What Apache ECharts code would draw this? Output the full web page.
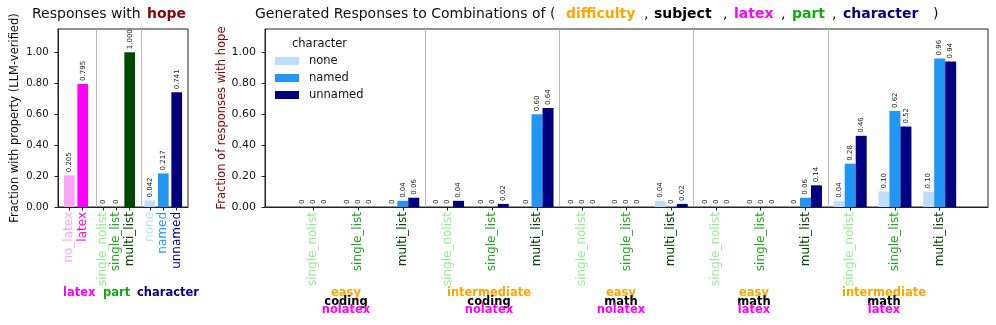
<!DOCTYPE html>
<html>
<head>
<meta charset="utf-8">
<script src="https://cdn.jsdelivr.net/npm/echarts@6/dist/echarts.min.js"></script>
<style>
  html, body { margin: 0; padding: 0; background: #fff; }
  #chart { width: 996px; height: 325px; }
</style>
</head>
<body>
<div id="chart"></div>
<script>
// left panel: share of responses with "hope" per attribute value
var leftGroups = [['no_latex', 'latex'], ['single_nolist', 'single_list', 'multi_list'], ['none', 'named', 'unnamed']];
var leftGroupNames = ['latex', 'part', 'character'];
var leftValues = [0.205, 0.795, 0, 0, 1.000, 0.042, 0.217, 0.741];

// right panel: one tick per (difficulty, subject, latex, part) combination
var parts = ['single_nolist', 'single_list', 'multi_list'];
var difficulty = ['easy', 'intermediate', 'easy', 'easy', 'intermediate'];
var subject = ['coding', 'coding', 'math', 'math', 'math'];
var latexGroup = ['nolatex', 'nolatex', 'nolatex', 'latex', 'latex'];
var characters = ['none', 'named', 'unnamed'];
var noneVals    = [0, 0, 0,     0, 0, 0,        0, 0, 0.04,  0, 0, 0,     0.04, 0.10, 0.10];
var namedVals   = [0, 0, 0.04,  0, 0, 0.60,     0, 0, 0,     0, 0, 0.06,  0.28, 0.62, 0.96];
var unnamedVals = [0, 0, 0.06,  0.04, 0.02, 0.64,  0, 0, 0.02,  0, 0, 0.14,  0.46, 0.52, 0.94];
var yTicks = [0, 0.2, 0.4, 0.6, 0.8, 1.0];

var colors = {
  no_latex: '#ffa3f6', latex: '#ff00ff',
  single_nolist: '#90ee90', single_list: '#1fa81f', multi_list: '#004800',
  none: '#bbdefb', named: '#2196f3', unnamed: '#000080'
};
var FONT = '"DejaVu Sans", sans-serif';

// left positions: groups separated by half a slot
var leftCats = [], leftPos = [];
var p = 0;
leftGroups.forEach(function (g, gi) {
  if (gi > 0) p += 0.5;
  g.forEach(function (c) { leftCats.push(c); leftPos.push(p); p++; });
});

var rightPos = [];
for (var i = 0; i < difficulty.length * parts.length; i++) rightPos.push(i);
var rightSeps = [];
for (var gs = 1; gs < difficulty.length; gs++) rightSeps.push({ xAxis: gs * parts.length - 0.5 });

function richFor(names, size) {
  var r = {};
  names.forEach(function (n) { r[n] = { color: colors[n], fontSize: size, fontFamily: FONT }; });
  return r;
}
function nameAt(list, posList, v) {
  for (var k = 0; k < posList.length; k++) if (Math.abs(posList[k] - v) < 1e-6) return list[k];
  return '';
}
function fmt(dec) {
  return function (prm) { var v = prm.value[1]; return v === 0 ? '0' : v.toFixed(dec); };
}
function sepSeries(xi, lines) {
  return {
    type: 'line', xAxisIndex: xi, yAxisIndex: xi, data: [], silent: true,
    markLine: {
      silent: true, symbol: ['none', 'none'], label: { show: false },
      lineStyle: { color: '#b8b8b8', type: 'solid', width: 1 }, data: lines
    }
  };
}

var chart = echarts.init(document.getElementById('chart'));

var option = {
  animation: false,
  textStyle: { fontFamily: FONT },
  grid: [
    { left: 58, top: 29, width: 130, height: 178, show: true, borderColor: '#222', borderWidth: 1 },
    { left: 265, top: 29, width: 723, height: 178, show: true, borderColor: '#222', borderWidth: 1 }
  ],
  xAxis: [
    {
      gridIndex: 0, type: 'value', min: -0.84, max: 8.84,
      axisLine: { onZero: false, lineStyle: { color: '#222' } },
      splitLine: { show: false },
      axisTick: { customValues: leftPos, length: 3.5, lineStyle: { color: '#222' } },
      axisLabel: {
        customValues: leftPos, rotate: 90, margin: 5,
        formatter: function (v) { var n = nameAt(leftCats, leftPos, v); return '{' + n + '|' + n + '}'; },
        rich: richFor(leftCats, 12)
      }
    },
    {
      gridIndex: 1, type: 'value', min: -1.08, max: 15.08,
      axisLine: { onZero: false, lineStyle: { color: '#222' } },
      splitLine: { show: false },
      axisTick: { customValues: rightPos, length: 3.5, lineStyle: { color: '#222' } },
      axisLabel: {
        customValues: rightPos, rotate: 90, margin: 5,
        formatter: function (v) { var n = parts[Math.round(v) % parts.length]; return '{' + n + '|' + n + '}'; },
        rich: richFor(parts, 12)
      }
    }
  ],
  yAxis: [
    {
      gridIndex: 0, type: 'value', min: 0, max: 1.15,
      name: 'Fraction with property (LLM-verified)', nameLocation: 'middle', nameGap: 37,
      nameMoveOverlap: false,
      nameTextStyle: { color: '#111', fontSize: 11.5, fontFamily: FONT },
      axisLine: { show: true, onZero: false, lineStyle: { color: '#222' } },
      splitLine: { show: false },
      axisTick: { show: true, customValues: yTicks, length: 3.5, lineStyle: { color: '#222' } },
      axisLabel: { customValues: yTicks, color: '#111', fontSize: 10, margin: 9.5,
        formatter: function (v) { return v.toFixed(2); } }
    },
    {
      gridIndex: 1, type: 'value', min: 0, max: 1.15,
      name: 'Fraction of responses with hope', nameLocation: 'middle', nameGap: 37,
      nameMoveOverlap: false,
      nameTextStyle: { color: '#8b0000', fontSize: 11.5, fontFamily: FONT },
      axisLine: { show: true, onZero: false, lineStyle: { color: '#222' } },
      splitLine: { show: false },
      axisTick: { show: true, customValues: yTicks, length: 3.5, lineStyle: { color: '#222' } },
      axisLabel: { customValues: yTicks, color: '#111', fontSize: 11, margin: 9,
        formatter: function (v) { return v.toFixed(2); } }
    }
  ],
  legend: {
    orient: 'vertical', left: 275, top: 55, padding: 0, icon: 'rect',
    itemWidth: 24, itemHeight: 8, itemGap: 5,
    textStyle: { fontSize: 11.5, color: '#111', lineHeight: 12, padding: [0, 0, 0, 5], fontFamily: FONT },
    data: characters
  },
  series: [
    {
      type: 'bar', xAxisIndex: 0, yAxisIndex: 0, barWidth: 10.7,
      data: leftValues.map(function (v, k) {
        return { value: [leftPos[k], v], itemStyle: { color: colors[leftCats[k]] } };
      }),
      label: { show: true, position: 'top', rotate: 90, align: 'left', verticalAlign: 'middle',
        distance: 3, fontSize: 7, color: '#222', formatter: fmt(3) }
    },
    sepSeries(0, [{ xAxis: 2.0 }, { xAxis: 5.35 }]),
    sepSeries(1, rightSeps)
  ].concat([noneVals, namedVals, unnamedVals].map(function (vals, si) {
    return {
      name: characters[si], type: 'bar', xAxisIndex: 1, yAxisIndex: 1,
      barWidth: 11, barGap: '0%',
      itemStyle: { color: colors[characters[si]] },
      data: vals.map(function (v, k) { return [rightPos[k], v]; }),
      label: { show: true, position: 'top', rotate: 90, align: 'left', verticalAlign: 'middle',
        distance: 3, fontSize: 7, color: '#222', formatter: fmt(2) }
    };
  })),
  graphic: []
};

// titles
var g = option.graphic;
function txt(x, y, text, color, font, align) {
  g.push({ type: 'text', x: x, y: y, silent: true,
    style: { text: text, fill: color, font: font, align: align || 'left', verticalAlign: 'middle' } });
}
var REG14 = '14px ' + FONT, BOLD14 = 'bold 14px ' + FONT, BOLD11 = 'bold 11.5px ' + FONT;
txt(32, 14, 'Responses with', '#111', REG14);
txt(147, 14, 'hope', '#8b0000', BOLD14);
txt(255, 14, 'Generated Responses to Combinations of (', '#111', REG14);
txt(566, 14, 'difficulty', '#ffa500', BOLD14);
txt(644, 14, ',', '#111', REG14);
txt(654, 14, 'subject', '#000', BOLD14);
txt(723, 14, ',', '#111', REG14);
txt(734, 14, 'latex', '#ff00ff', BOLD14);
txt(781, 14, ',', '#111', REG14);
txt(792, 14, 'part', '#12a812', BOLD14);
txt(832, 14, ',', '#111', REG14);
txt(843, 14, 'character', '#000080', BOLD14);
txt(933, 14, ')', '#111', REG14);

// legend title
txt(292, 44, 'character', '#111', '11.5px ' + FONT);

// left group names under the tick labels
var leftNameX = [63, 103, 137];
var leftNameColor = ['#ff00ff', '#12a812', '#000080'];
leftGroupNames.forEach(function (n, k) { txt(leftNameX[k], 293, n, leftNameColor[k], BOLD11); });

// right combination labels
var groupX = [346, 489, 621, 754, 884];
difficulty.forEach(function (d, k) {
  txt(groupX[k], 293, d, '#ffa500', BOLD11, 'center');
  txt(groupX[k], 302, subject[k], '#000', BOLD11, 'center');
  txt(groupX[k], 310, latexGroup[k], '#ff00ff', BOLD11, 'center');
});

chart.setOption(option);
</script>
</body>
</html>
